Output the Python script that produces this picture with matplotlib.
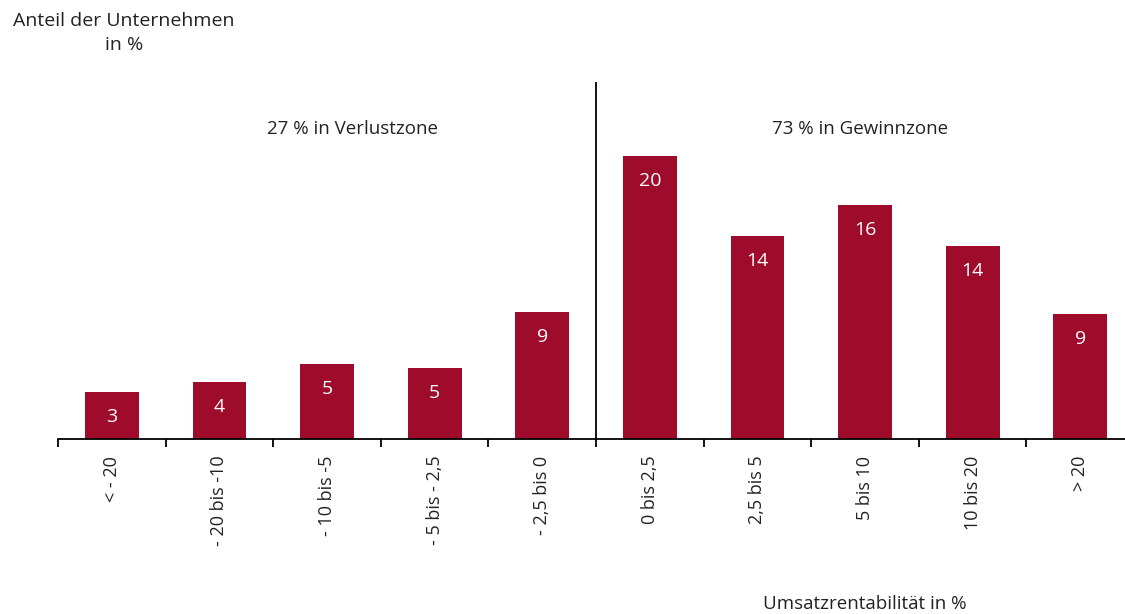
import matplotlib.pyplot as plt
import numpy as np

plt.rcParams['font.family'] = ['Open Sans', 'DejaVu Sans']
plt.rcParams['text.color'] = '#222222'
plt.rcParams['xtick.color'] = '#222222'

kategorien = ['< - 20', '- 20 bis -10', '- 10 bis -5', '- 5 bis - 2,5', '- 2,5 bis 0',
              '0 bis 2,5', '2,5 bis 5', '5 bis 10', '10 bis 20', '> 20']
anteil = [3.3, 4.0, 5.3, 5.0, 9.0, 20.0, 14.3, 16.5, 13.6, 8.8]
beschriftung = ['3', '4', '5', '5', '9', '20', '14', '16', '14', '9']

rot = '#9E0B2B'

fig = plt.figure(figsize=(11.25, 6.14), dpi=100)
# rechte Achsenkante liegt knapp ausserhalb des Bildes
ax = fig.add_axes([58 / 1125, 0.285, 1076 / 1125, 0.5814])

x = np.arange(len(kategorien))
balken = ax.bar(x, anteil, width=0.5, color=rot)

for b, txt in zip(balken, beschriftung):
    ax.annotate(txt, (b.get_x() + b.get_width() / 2, b.get_height()),
                xytext=(0, -18), textcoords='offset points',
                ha='center', va='center', color='white', fontsize=14)

ax.set_xlim(-0.5, len(kategorien) - 0.5)
ax.set_ylim(0, 25.2)
ax.axvline(4.5, color='black', linewidth=1.3)

for s in ['top', 'right', 'left']:
    ax.spines[s].set_visible(False)
ax.spines['bottom'].set_linewidth(1.3)
ax.set_yticks([])

ax.set_xticks(x)
ax.set_xticklabels(kategorien, rotation=90, fontsize=13)
ax.tick_params(axis='x', which='major', length=0, pad=12)
ax.set_xticks(np.arange(-0.5, len(kategorien)), minor=True)
ax.tick_params(axis='x', which='minor', length=6, width=1.3, direction='out', color='black')

ax.text(2.24, 21.9, '27 % in Verlustzone', ha='center', va='center', fontsize=13.5)
ax.text(6.95, 21.9, '73 % in Gewinnzone', ha='center', va='center', fontsize=13.5)

fig.text(124 / 1125, 1 - 33 / 614, 'Anteil der Unternehmen\nin %', ha='center', va='center',
         fontsize=14, linespacing=1.45)
fig.text(865 / 1125, 1 - 604 / 614, 'Umsatzrentabilität in %', ha='center', va='center', fontsize=13.5)

fig.savefig('out.png', dpi=100)
